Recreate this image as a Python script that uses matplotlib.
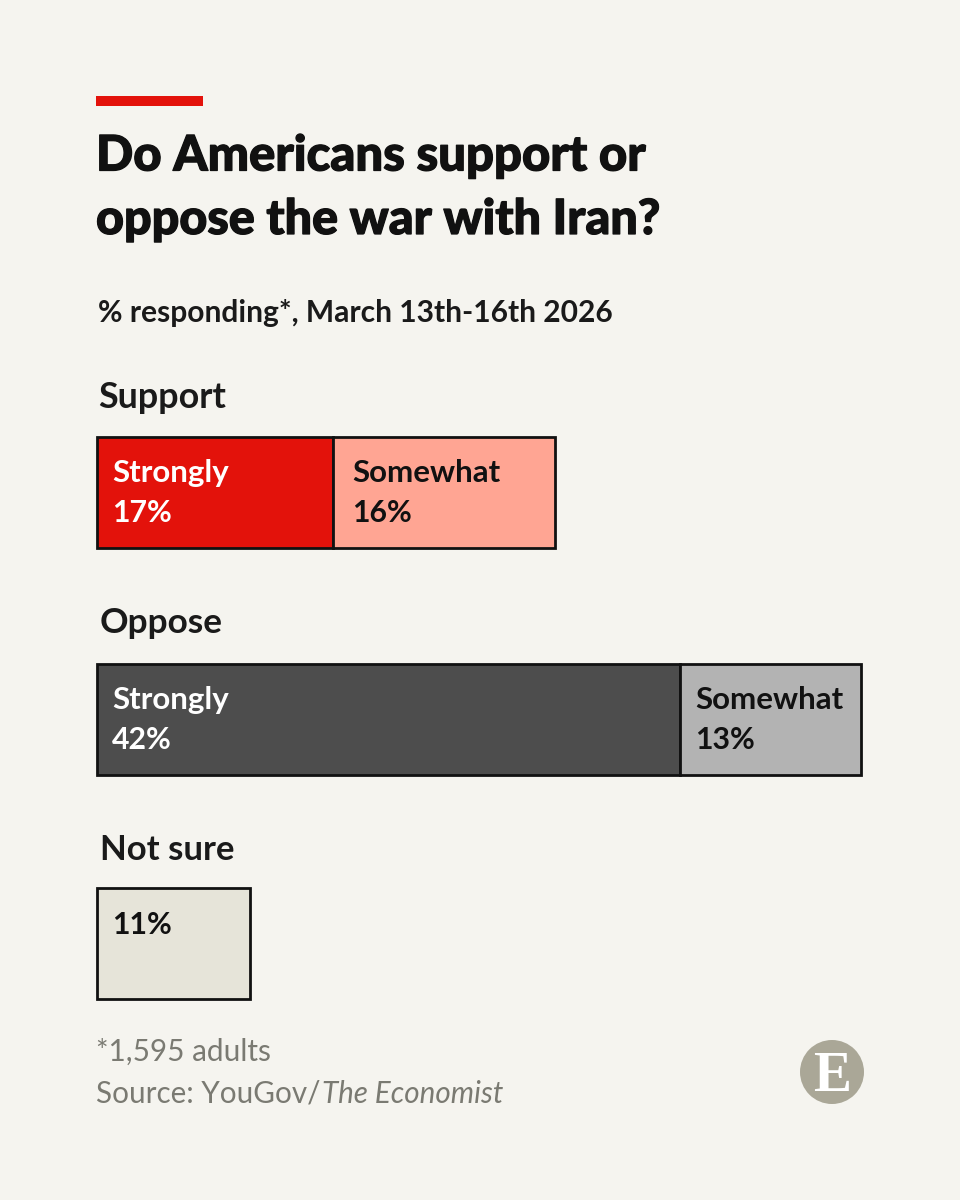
import matplotlib
matplotlib.use("Agg")
import matplotlib.pyplot as plt
import matplotlib.patheffects as pe
from matplotlib.patches import Rectangle, Circle

plt.rcParams['font.family'] = ['Lato', 'DejaVu Sans']

BG = "#f5f4ef"
INK = "#1a1a1a"

title_lines = ["Do Americans support or", "oppose the war with Iran?"]
subtitle = "% responding*, March 13th-16th 2026"
groups = ["Support", "Oppose", "Not sure"]
support_vals = [17, 16]
oppose_vals = [42, 13]
notsure_vals = [11]
support_labels = ["Strongly", "Somewhat"]
oppose_labels = ["Strongly", "Somewhat"]
notsure_labels = [""]
support_colors = ["#e3120b", "#ffa593"]
oppose_colors = ["#4d4d4d", "#b3b3b3"]
notsure_colors = ["#e6e4d9"]
support_text = ["white", "#111111"]
oppose_text = ["white", "#111111"]
notsure_text = ["#111111"]
note = "*1,595 adults"
source_plain = "Source: YouGov/"
source_italic = "The Economist"

fig = plt.figure(figsize=(9.6, 12), dpi=100, facecolor=BG)
ax = fig.add_axes([0, 0, 1, 1])
ax.set_xlim(0, 960)
ax.set_ylim(1200, 0)
ax.axis("off")

ax.add_patch(Rectangle((96, 96), 107, 10, fc="#e3120b", ec="none"))
for s, y, fs in zip(title_lines, [156, 220], [35.3, 34.9]):
    ax.text(96, y, s, fontsize=fs, fontweight="black", color="#111111", va="center", ha="left",
            path_effects=[pe.withStroke(linewidth=0.9, foreground="#111111")])
ax.text(98, 313, subtitle, fontsize=21.6, fontweight="bold", color=INK, va="center")

unit = (861 - 97) / sum(oppose_vals)   # px per percentage point
x0 = 97

def row(vals, labels, colors, tcols, top, pads, h=111):
    x = x0
    for v, l, c, t, p in zip(vals, labels, colors, tcols, pads):
        w = v * unit
        ax.add_patch(Rectangle((x, top), w, h, fc=c, ec="#111111", lw=2))
        if l:
            ax.text(x + p, top + 36, l, fontsize=22.5, fontweight="bold", color=t, va="center")
        ax.text(x + p, top + 76 if l else top + 37, f"{v}%", fontsize=21.8, fontweight="bold", color=t, va="center")
        x += w

ax.text(98, 397, groups[0], fontsize=25.8, fontweight="bold", color=INK, va="center")
row(support_vals, support_labels, support_colors, support_text, 437, [15, 19])
ax.text(100, 623, groups[1], fontsize=25.4, fontweight="bold", color=INK, va="center")
row(oppose_vals, oppose_labels, oppose_colors, oppose_text, 664, [15, 15])
ax.text(100, 850, groups[2], fontsize=25, fontweight="bold", color=INK, va="center")
row(notsure_vals, notsure_labels, notsure_colors, notsure_text, 888, [15])

ax.text(96, 1052, note, fontsize=21.4, color="#7a7a72", va="center")
t1 = ax.text(96, 1094, source_plain, fontsize=21.3, color="#7a7a72", va="center")
fig.canvas.draw()
bb = t1.get_window_extent(fig.canvas.get_renderer())
ax.text(bb.x1 + 1, 1094, source_italic, fontsize=21.3, style="italic", color="#7a7a72", va="center")

ax.add_patch(Circle((832, 1072), 32, fc="#aaa797", ec="none"))
ax.text(832, 1091, "E", fontsize=41, family="Liberation Serif", fontweight="bold", color="white", ha="center", va="baseline")

fig.savefig("out.png", dpi=100, facecolor=BG)
